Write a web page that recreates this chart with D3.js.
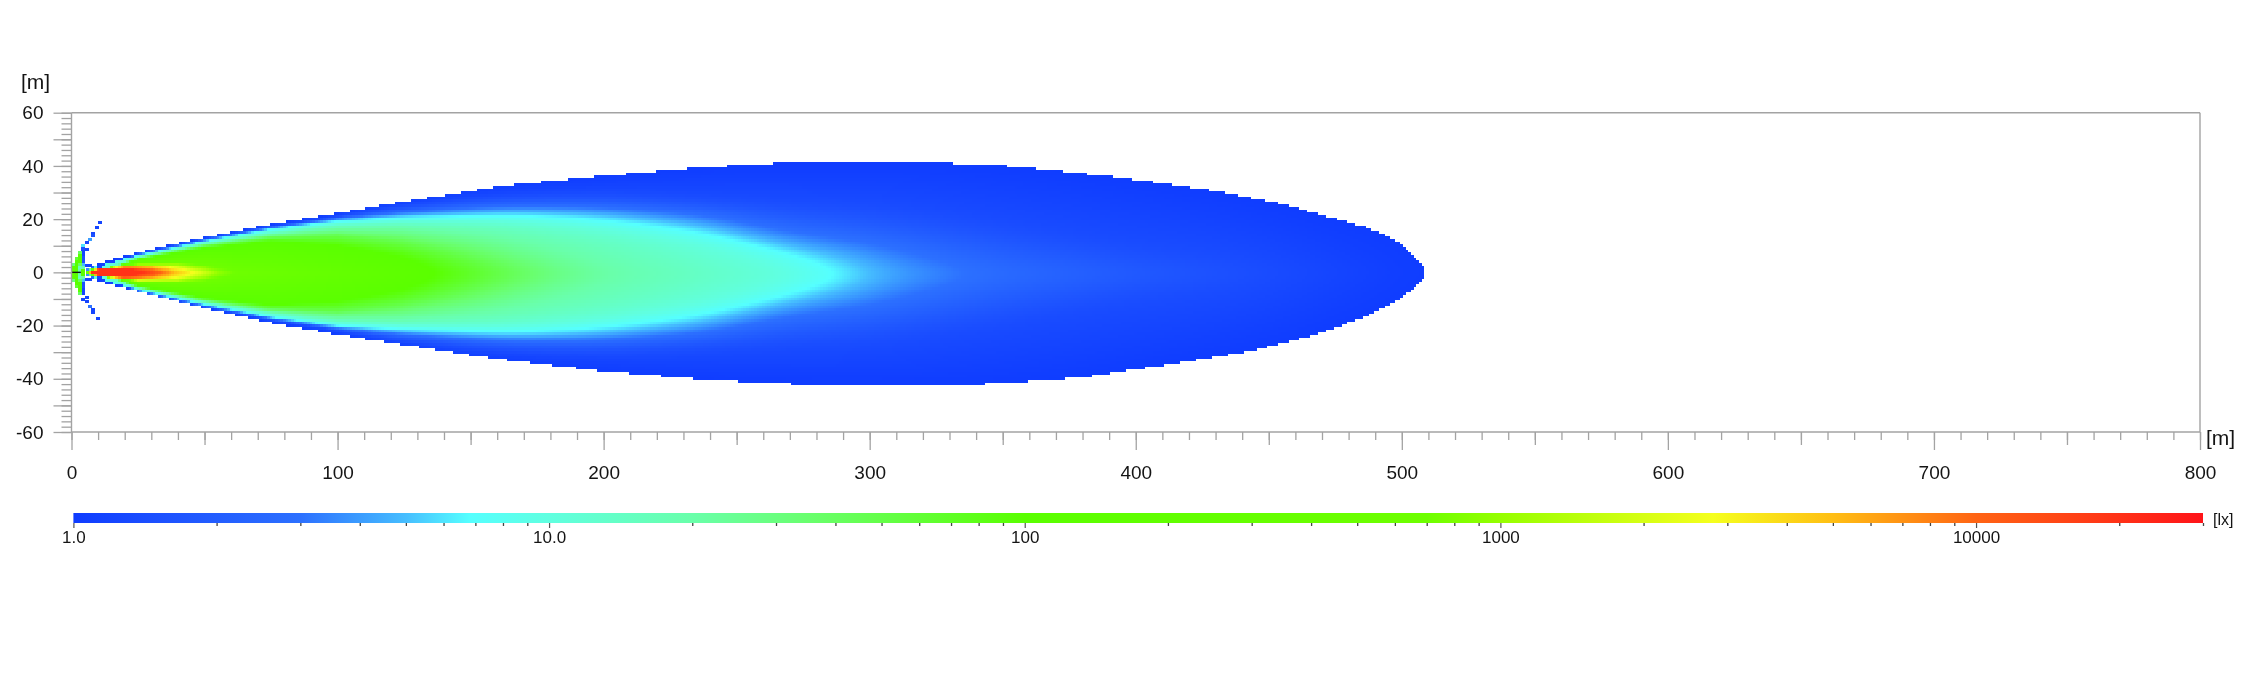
<!DOCTYPE html>
<html>
<head>
<meta charset="utf-8">
<script src="https://cdn.jsdelivr.net/npm/d3@7"></script>
<style>
  html, body { margin: 0; background: #fff; }
  #wrap { position: relative; width: 2250px; height: 675px; overflow: hidden; }
  canvas { position: absolute; left: 0; top: 0; filter: blur(0.45px); }
  svg { position: absolute; left: 0; top: 0; display: block; }
  text { font-family: "Liberation Sans", Arial, sans-serif; fill: #141414; }
  .domain { display: none; }
  .frame line { stroke: #a3a3a3; }
</style>
</head>
<body>
<div id="wrap">
  <canvas id="heat" width="2250" height="675"></canvas>
  <svg id="chart"></svg>
</div>
<script>
const width = 2250;
const height = 675;

// Colour bar: lux -> colour
const colorLux = [1, 1.5, 3, 5, 6.8, 10, 20, 35, 100, 700, 1000, 2800, 5000, 10000, 30000];
const colorHex = ["#0f3cff", "#1c50ff", "#2c70ff", "#46beff", "#55ffff", "#60ffe0", "#69ffaa", "#69ff6e",
                  "#5aff00", "#6eff00", "#96ff00", "#f5ff1e", "#ffbe14", "#ff6414", "#ff1419"];

// Axis ticks
const xMajor = [0, 100, 200, 300, 400, 500, 600, 700, 800];
const yLabels = [-60, -40, -20, 0, 20, 40, 60];
const barDecades = [1, 10, 100, 1000, 10000];
const barLabels = ["1.0", "10.0", "100", "1000", "10000"];
const barMinors = [2, 3, 4, 5, 6, 7, 8, 9, 20, 30, 40, 50, 60, 70, 80, 90, 200, 300, 400, 500, 600, 700, 800, 900,
                   2000, 3000, 4000, 5000, 6000, 7000, 8000, 9000, 20000, 30000];

// Outer edge of the lit area (1 lx), metres
const edgeTopX = [5, 8, 13, 24.5, 49.5, 74.6, 99.7, 124, 161, 198.7, 236, 267.5, 300, 327.6, 355, 393, 430.6, 455.6, 474.8, 487, 499.4, 504, 507, 508.4];
const edgeTop = [0.8, 2.2, 4.2, 7.4, 13.1, 18, 22.2, 26.4, 32.4, 36.2, 39.4, 41.2, 41.4, 41.2, 39.8, 35.8, 30.6, 25.6, 20.2, 16.9, 11.2, 6.8, 3, 2.2];
const edgeBottomX = [5, 8, 11.8, 24.5, 49.5, 74.6, 99.7, 123.5, 161, 198.7, 236, 267.5, 286, 330, 349, 380, 418, 443, 468, 487, 499.4, 504, 507, 508.4];
const edgeBottom = [0.8, 2.2, 3.9, 7, 13.3, 18.9, 23.3, 27, 32.7, 37.1, 40.2, 41.9, 42.5, 42.5, 41.8, 39.5, 33.8, 29.6, 23.3, 16.4, 10, 6.4, 3.2, 2.6];

// Mid line of the beam
const midX = [0, 100, 300, 510];
const midY = [0, -0.4, -0.7, -0.1];

// Lux along the mid line
const axisX = [5, 6.5, 8, 27, 34, 39, 46, 52, 55, 62, 140, 165, 182, 205, 240, 272, 290, 305, 340, 392, 450, 509];
const axisLux = [100, 1000, 20000, 20000, 10000, 5000, 2800, 1500, 1000, 700, 100, 50, 30, 20, 14, 10, 6.8, 4.5, 3, 2, 1.4, 1];

// Iso-lux half widths [distance, half width], metres
const lx1_4 = [[9, 0], [24.5, 7.1], [49.5, 12.8], [74.6, 17.6], [100, 21.3], [124, 24.6], [161, 28.5], [199, 29], [236, 27.5], [267, 26], [300, 25], [330, 21], [360, 16], [390, 11], [420, 7], [440, 4], [450, 0]];
const lx2 = [[9, 0], [24.5, 6.9], [49.5, 12.6], [74.6, 17.3], [100, 21], [124, 23.8], [161, 26.5], [199, 27], [236, 25], [267, 21], [300, 18], [330, 13], [360, 7], [385, 2.5], [392, 0]];
const lx3 = [[9, 0], [24.5, 6.7], [49.5, 12.3], [74.6, 17], [100, 20.6], [124, 22.8], [161, 25], [199, 25], [236, 22.5], [267, 16], [300, 12], [325, 6], [335, 3], [340, 0]];
const lx4_5 = [[9, 0], [24.5, 6.5], [49.5, 12], [74.6, 16.7], [100, 20.1], [124, 22], [161, 23.7], [199, 22.8], [236, 19], [267, 11.5], [285, 8], [300, 4.5], [305, 0]];
const lx6_8 = [[9, 0], [13, 3.2], [24.5, 6.3], [49.5, 11.8], [74.6, 16.4], [100, 19.6], [124, 21.2], [161, 22.4], [180, 22], [199, 20.5], [220, 18], [236, 16], [250, 13], [261, 10], [275, 6.5], [285, 3.5], [290, 0]];
const lx10 = [[10, 0], [13, 2.8], [24.5, 5.9], [49.5, 11.4], [74.6, 15.6], [100, 18.8], [124, 20], [161, 20.6], [199, 17.7], [236, 12], [258, 7], [268, 3], [272, 0]];
const lx14 = [[10, 0], [24.5, 5.8], [49.5, 11], [74.6, 15], [100, 18], [124, 19], [161, 18.2], [199, 13.5], [225, 7], [235, 3], [240, 0]];
const lx20 = [[10, 0], [24.5, 5.6], [49.5, 10.7], [74.6, 14.5], [100, 17], [124, 17.5], [161, 14.5], [190, 7], [200, 3], [205, 0]];
const lx30 = [[10, 0], [24.5, 5.4], [49.5, 10.4], [74.6, 14], [100, 15.5], [124, 14.5], [150, 10.5], [165, 6.5], [176, 3], [182, 0]];
const lx50 = [[10, 0], [24.5, 5.2], [49.5, 10], [74.6, 13.2], [100, 14.2], [124, 12], [143, 8], [155, 4.5], [165, 0]];
const lx100 = [[10, 0], [25, 5], [50, 9.3], [75, 12], [100, 10.5], [125, 6.5], [134, 3.5], [140, 0]];
const lx700 = [[6, 0.4], [10, 1.5], [25, 3.3], [40, 3.8], [50, 3], [58, 1.5], [62, 0]];
const lx1000 = [[6.5, 0.3], [10, 1.5], [25, 3.1], [40, 3.2], [50, 2], [55, 0]];
const lx1500 = [[7, 0.4], [10, 1.5], [25, 3], [40, 2.8], [47, 1.5], [52, 0]];
const lx2800 = [[7, 0.4], [10, 1.4], [25, 2.8], [35, 2.5], [42, 1.3], [46, 0]];
const lx5000 = [[7, 0.4], [10, 1.3], [22, 2.4], [30, 2.2], [36, 1.2], [39, 0]];
const lx10000 = [[7.5, 0.3], [10, 1.2], [20, 2], [26, 1.7], [31, 0.9], [34, 0]];
const lx20000 = [[8, 0.3], [11, 1.1], [18, 1.6], [23, 1.1], [27, 0]];

const levelLux = [1.4, 2, 3, 4.5, 6.8, 10, 14, 20, 30, 50, 100, 700, 1000, 1500, 2800, 5000, 10000, 20000];
const levelRows = [lx1_4, lx2, lx3, lx4_5, lx6_8, lx10, lx14, lx20, lx30, lx50, lx100, lx700, lx1000, lx1500, lx2800, lx5000, lx10000, lx20000];

// Stray cells right in front of the lamp: [x, y, lux]
const nearCells = [
  [10.7, 18.8, 1.2], [9.6, 16.9, 1.2], [8.1, 14.7, 1.2], [8.1, 13.8, 1.5], [7, 12.4, 4], [5.8, 11.3, 1.2], [4.4, 10.2, 6],
  [5.8, 8.6, 1.2], [4.4, 9.1, 1.5], [4.4, 7.8, 1.2], [4.4, 6.6, 1.2], [4.4, 5.4, 1.5], [4.4, 4.2, 1.5], [4.4, 3, 5],
  [5.6, 2.7, 1.2], [6.9, 2.7, 1.2], [10, -17.3, 1.2], [8.1, -15, 1.2], [8.1, -14, 1.2], [7, -12.8, 3], [5.8, -10.9, 1.2],
  [4.4, -10.2, 1.2], [5.8, -9.4, 1.2], [4.4, -7.8, 1.2], [4.4, -6.6, 1.2], [4.4, -5.4, 1.5], [4.4, -4.2, 1.5], [4.4, -3, 5],
  [5.6, -2.7, 1.2], [6.9, -2.7, 1.2], [0.6, 2.9, 30], [0.6, 1.7, 100], [0.6, 0.5, 200], [0.6, -0.6, 200], [0.6, -1.8, 100], [0.6, -3, 30],
  [1.9, 5.2, 60], [1.9, 4, 100], [1.9, 2.8, 100], [1.9, 1.6, 100], [1.9, 0.5, 100], [1.9, -0.6, 100], [1.9, -1.8, 100], [1.9, -3, 100], [1.9, -4.2, 100], [1.9, -5.4, 60],
  [3.2, 7.6, 40], [3.2, 6.4, 100], [3.2, 5.2, 100], [3.2, 4, 100], [3.2, 2.8, 40], [3.2, 1.6, 15], [3.2, 0.5, 20], [3.2, -0.6, 20], [3.2, -1.8, 15], [3.2, -3, 40], [3.2, -4.2, 100], [3.2, -5.4, 100], [3.2, -6.6, 100], [3.2, -7.8, 40],
  [4.4, 1.6, 20], [4.4, 0.5, 100], [4.4, -0.6, 100], [4.4, -1.8, 20]
];

const lampLine = [0, 3.5];

const x = d3.scaleLinear().domain([0, 800]).range([71.5, 2200]);
const y = d3.scaleLinear().domain([-60, 60]).range([432, 112.7]);
const mid = d3.scaleLinear().domain(midX).range(midY);
const color = d3.scaleLog().domain(colorLux).range(colorHex).interpolate(d3.interpolateRgb);
const barX = d3.scaleLog().domain([1, 30000]).range([73.4, 2203]);

// Scales that give the width of each iso-lux line at a distance
const topAt = d3.scaleLinear().domain(edgeTopX).range(edgeTop).clamp(true);
const bottomAt = d3.scaleLinear().domain(edgeBottomX).range(edgeBottom).clamp(true);
const axisAt = d3.scaleLinear().domain(axisX).range(axisLux.map(Math.log10)).clamp(true);
const levelAt = levelRows.map(rows => {
  const s = d3.scaleLinear().domain(rows.map(d => d[0])).range(rows.map(d => d[1]));
  const x0 = rows[0][0], x1 = rows[rows.length - 1][0];
  return v => (v < x0 || v > x1) ? 0 : s(v);
});

// log10 lux of one grid cell, between the iso-lux lines around it
function cellLog(cx, cy) {
  const m = mid(cx);
  const dy = Math.abs(cy - m);
  const env = cy >= m ? topAt(cx) - m : bottomAt(cx) + m;
  const widths = levelAt.map(f => f(cx));
  let inner = -1;
  for (let i = widths.length - 1; i >= 0; i--) {
    if (widths[i] >= dy && widths[i] > 0) { inner = i; break; }
  }
  const outW = inner < 0 ? env : widths[inner];
  const outL = inner < 0 ? 0 : Math.log10(levelLux[inner]);
  const hasNext = inner + 1 < widths.length && widths[inner + 1] > 0;
  const nextW = hasNext ? widths[inner + 1] : 0;
  const nextL = hasNext ? Math.log10(levelLux[inner + 1]) : axisAt(cx);
  const top = Math.max(nextL, outL);
  let t = outW > nextW ? (outW - dy) / (outW - nextW) : 1;
  t = Math.min(1, Math.max(0, t));
  return outL + (top - outL) * t;
}

// Grid of cells, 1 m square
const cols = d3.range(6, 509);
const rows = d3.range(-43, 43);
const sharp = new Float64Array(cols.length * rows.length);
cols.forEach((cx, i) => rows.forEach((cy, j) => {
  const inside = cy <= topAt(cx) && -cy <= bottomAt(cx);
  sharp[i + j * cols.length] = inside ? cellLog(cx, cy) : 0;
}));

// The far beam is soft in the source; the core stays as it is
const soft = Float64Array.from(sharp);
d3.blur2({data: soft, width: cols.length, height: rows.length}, 9, 1.6);
const softWeight = d3.scaleLinear().domain([95, 150]).range([0, 1]).clamp(true);

const ctx = d3.select("#heat").node().getContext("2d");
function fillCell(cx, cy, w, h, lux) {
  const xa = Math.round(x(cx - w / 2)), xb = Math.round(x(cx + w / 2));
  const ya = Math.round(y(cy + h / 2)), yb = Math.round(y(cy - h / 2));
  ctx.fillStyle = color(lux);
  ctx.fillRect(xa, ya, xb - xa, yb - ya);
}
cols.forEach((cx, i) => rows.forEach((cy, j) => {
  if (cy > topAt(cx) || -cy > bottomAt(cx)) return;
  const k = i + j * cols.length;
  const w = softWeight(cx);
  const v = sharp[k] * (1 - w) + soft[k] * w;
  fillCell(cx, cy, 1, 1, Math.pow(10, Math.max(0, v)));
}));
nearCells.forEach(d => fillCell(d[0], d[1], 1.3, 1.2, d[2]));

const svg = d3.select("#chart").attr("width", width).attr("height", height);
const defs = svg.append("defs");

svg.append("line")
   .attr("x1", x(lampLine[0])).attr("x2", x(lampLine[1]))
   .attr("y1", y(0)).attr("y2", y(0))
   .attr("stroke", "#111").attr("stroke-width", 1.4);

// Frame
const frame = svg.append("g").attr("class", "frame").attr("stroke-width", 1.4);
frame.append("line").attr("x1", x(0)).attr("x2", x(800)).attr("y1", y(60)).attr("y2", y(60));
frame.append("line").attr("x1", x(0)).attr("x2", x(800)).attr("y1", y(-60)).attr("y2", y(-60));
frame.append("line").attr("x1", x(0)).attr("x2", x(0)).attr("y1", y(60)).attr("y2", y(-60));
frame.append("line").attr("x1", x(800)).attr("x2", x(800)).attr("y1", y(60)).attr("y2", y(-60));

// Axes
function addAxis(axis, tx, ty) {
  const g = svg.append("g").attr("class", "frame").attr("transform", `translate(${tx},${ty})`).call(axis);
  g.selectAll("line").attr("stroke-width", 1.3);
  return g;
}
const yMinor = d3.range(-60, 61, 2);
const yLong = d3.range(-60, 61, 10);
const xMinor = d3.range(0, 801, 10);
const xMid = d3.range(50, 801, 100);

addAxis(d3.axisLeft(y).tickValues(yMinor).tickSize(10).tickFormat(""), x(0), 0);
addAxis(d3.axisLeft(y).tickValues(yLong).tickSize(18).tickFormat(""), x(0), 0);
addAxis(d3.axisBottom(x).tickValues(xMinor).tickSize(8).tickFormat(""), 0, y(-60));
addAxis(d3.axisBottom(x).tickValues(xMid).tickSize(13).tickFormat(""), 0, y(-60));
addAxis(d3.axisBottom(x).tickValues(xMajor).tickSize(18).tickFormat(""), 0, y(-60));

svg.append("g").attr("transform", `translate(${x(0) - 18},0)`)
   .call(d3.axisLeft(y).tickValues(yLabels).tickSize(0).tickPadding(10).tickFormat(d => String(d)))
   .call(g => g.selectAll("text").attr("font-size", 19).attr("font-family", null));
svg.append("g").attr("transform", `translate(0,${y(-60)})`)
   .call(d3.axisBottom(x).tickValues(xMajor).tickSize(0).tickPadding(34).tickFormat(d => String(d)))
   .call(g => g.selectAll("text").attr("font-size", 19).attr("font-family", null));

svg.append("text").attr("x", 21).attr("y", 88.5).attr("font-size", 21).text("[m]");
svg.append("text").attr("x", 2206).attr("y", 444.5).attr("font-size", 21).text("[m]");

// Colour bar
const grad = defs.append("linearGradient").attr("id", "barGrad")
    .attr("gradientUnits", "userSpaceOnUse")
    .attr("x1", barX(1)).attr("x2", barX(30000)).attr("y1", 0).attr("y2", 0);
grad.selectAll("stop").data(colorLux).join("stop")
    .attr("offset", d => (barX(d) - barX(1)) / (barX(30000) - barX(1)))
    .attr("stop-color", d => color(d));

svg.append("rect")
   .attr("x", barX(1)).attr("y", 513).attr("width", barX(30000) - barX(1)).attr("height", 10)
   .attr("fill", "url(#barGrad)");

const barAxis = svg.append("g").attr("transform", "translate(0,523)");
barAxis.append("g").call(d3.axisBottom(barX).tickValues(barMinors).tickSize(3).tickFormat(""))
       .call(g => g.selectAll("line").attr("stroke", "#444").attr("stroke-width", 1.3));
barAxis.append("g")
       .call(d3.axisBottom(barX).tickValues(barDecades).tickSize(5).tickPadding(3)
              .tickFormat((d, i) => barLabels[i]))
       .call(g => g.selectAll("line").attr("stroke", "#555").attr("stroke-width", 1.2))
       .call(g => g.selectAll("text").attr("font-size", 17).attr("font-family", null));

svg.append("text").attr("x", 2213).attr("y", 525).attr("font-size", 16).text("[lx]");
</script>
</body>
</html>
